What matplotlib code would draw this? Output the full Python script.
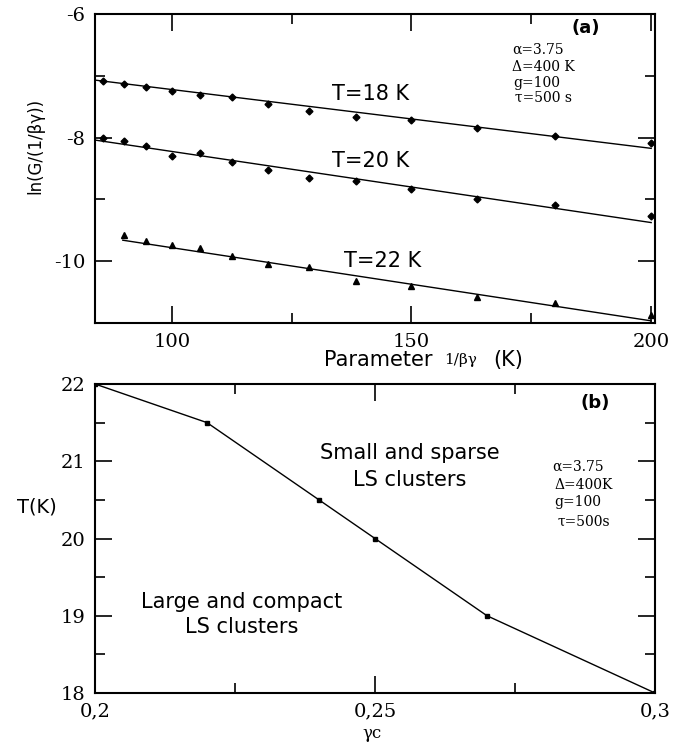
import matplotlib
matplotlib.use("Agg")
import matplotlib.pyplot as plt
from matplotlib.ticker import MultipleLocator, FixedLocator, FixedFormatter
import numpy as np

plt.rcParams['axes.unicode_minus'] = False
plt.rcParams['font.family'] = ['DejaVu Sans']

# ---------------- Panel (a) data ----------------
x_param = [85.7, 90.0, 94.7, 100.0, 105.9, 112.5, 120.0, 128.6, 138.5, 150.0, 163.6, 180.0, 200.0]
lnG_T18 = [-7.08, -7.13, -7.18, -7.25, -7.31, -7.35, -7.46, -7.57, -7.66, -7.72, -7.84, -7.98, -8.08]
lnG_T20 = [-8.00, -8.05, -8.13, -8.29, -8.25, -8.39, -8.52, -8.66, -8.71, -8.83, -9.00, -9.09, -9.27]
x_param_T22 = [90.0, 94.7, 100.0, 105.9, 112.5, 120.0, 128.6, 138.5, 150.0, 163.6, 180.0, 200.0]
lnG_T22 = [-9.57, -9.68, -9.74, -9.79, -9.91, -10.04, -10.10, -10.32, -10.40, -10.58, -10.68, -10.87]

# fitted straight lines: intercept, slope, x-range
fit_intercept = [-6.27, -7.073, -8.597]
fit_slope = [-0.00952, -0.01151, -0.01184]
fit_xstart = [84.0, 84.0, 89.8]
fit_xend = [200.0, 200.0, 200.0]
curve_labels = ["T=18 K", "T=20 K", "T=22 K"]
label_x = [141.5, 141.5, 143.9]
label_y = [-7.30, -8.38, -10.0]

# ---------------- Panel (b) data ----------------
gamma_c = [0.20, 0.22, 0.24, 0.25, 0.27, 0.30]
T_K = [22.0, 21.5, 20.5, 20.0, 19.0, 18.0]

params_text = ["α=3.75", "Δ=400 K", "g=100", "τ=500 s"]
params_text_b = ["α=3.75", "Δ=400K", "g=100", "τ=500s"]

W, H = 673, 742
fig = plt.figure(figsize=(W / 100, H / 100), dpi=100)


def fp(x, y):
    return x / W, 1 - y / H


ax1 = fig.add_axes([95 / W, 1 - 323 / H, 560 / W, 309 / H])
ax2 = fig.add_axes([95 / W, 1 - 693 / H, 560 / W, 309 / H])

serif = 'DejaVu Serif'

for ax in (ax1, ax2):
    for s in ax.spines.values():
        s.set_linewidth(1.5)
    ax.tick_params(which='both', direction='in', top=True, right=True, width=1.2)
    ax.tick_params(which='major', length=12, labelsize=14, pad=7)
    ax.tick_params(which='minor', length=7)

# ---- Panel (a) ----
ax1.plot(x_param, lnG_T18, linestyle='none', marker='D', ms=3.5, color='black')
ax1.plot(x_param, lnG_T20, linestyle='none', marker='D', ms=3.5, color='black')
ax1.plot(x_param_T22, lnG_T22, linestyle='none', marker='^', ms=5, color='black')
for a, b, x0, x1 in zip(fit_intercept, fit_slope, fit_xstart, fit_xend):
    xs = np.array([x0, x1])
    ax1.plot(xs, a + b * xs, color='black', lw=1.0)
for t, lx, ly in zip(curve_labels, label_x, label_y):
    ax1.text(lx, ly, t, ha='center', va='center', fontsize=15)

ax1.set_xlim(84, 200.8)
ax1.set_ylim(-11, -6)
ax1.xaxis.set_major_locator(MultipleLocator(50))
ax1.xaxis.set_minor_locator(MultipleLocator(25))
ax1.yaxis.set_major_locator(MultipleLocator(2))
ax1.yaxis.set_minor_locator(MultipleLocator(1))
for lab in ax1.get_xticklabels() + ax1.get_yticklabels():
    lab.set_family(serif)

fig.text(*fp(35, 146), "ln(G/(1/βγ))", rotation=90, ha='center', va='center', fontsize=12)
fig.text(*fp(378, 360), "Parameter", ha='center', va='center', fontsize=15)
fig.text(*fp(461, 360), "1/βγ", ha='center', va='center', fontsize=11, family=serif)
fig.text(*fp(508, 360), "(K)", ha='center', va='center', fontsize=15)
fig.text(*fp(586, 28), "(a)", ha='center', va='center', fontsize=13, fontweight='bold')

for t, (px, py) in zip(params_text, [(512, 50), (512, 67), (513, 83), (515, 98)]):
    fig.text(*fp(px, py), t, ha='left', va='center', fontsize=10, family=serif)

# ---- Panel (b) ----
ax2.plot(gamma_c, T_K, color='black', lw=1.0, marker='s', ms=2.5)
ax2.set_xlim(0.2, 0.3)
ax2.set_ylim(18, 22)
ax2.xaxis.set_major_locator(FixedLocator([0.2, 0.25, 0.3]))
ax2.xaxis.set_major_formatter(FixedFormatter(["0,2", "0,25", "0,3"]))
ax2.xaxis.set_minor_locator(FixedLocator([0.225, 0.275]))
ax2.yaxis.set_major_locator(MultipleLocator(1))
ax2.yaxis.set_minor_locator(MultipleLocator(0.5))
for lab in ax2.get_xticklabels() + ax2.get_yticklabels():
    lab.set_family(serif)

fig.text(*fp(37, 507), "T(K)", ha='center', va='center', fontsize=14)
fig.text(*fp(372, 733), "γc", ha='center', va='center', fontsize=12, family=serif)
fig.text(*fp(595, 403), "(b)", ha='center', va='center', fontsize=13, fontweight='bold')
fig.text(*fp(410, 453), "Small and sparse", ha='center', va='center', fontsize=15)
fig.text(*fp(410, 480), "LS clusters", ha='center', va='center', fontsize=15)
fig.text(*fp(242, 602), "Large and compact", ha='center', va='center', fontsize=15)
fig.text(*fp(242, 627), "LS clusters", ha='center', va='center', fontsize=15)

for t, (px, py) in zip(params_text_b, [(552, 467), (554, 485), (554, 502), (558, 522)]):
    fig.text(*fp(px, py), t, ha='left', va='center', fontsize=10, family=serif)

fig.savefig("out.png", dpi=100)
